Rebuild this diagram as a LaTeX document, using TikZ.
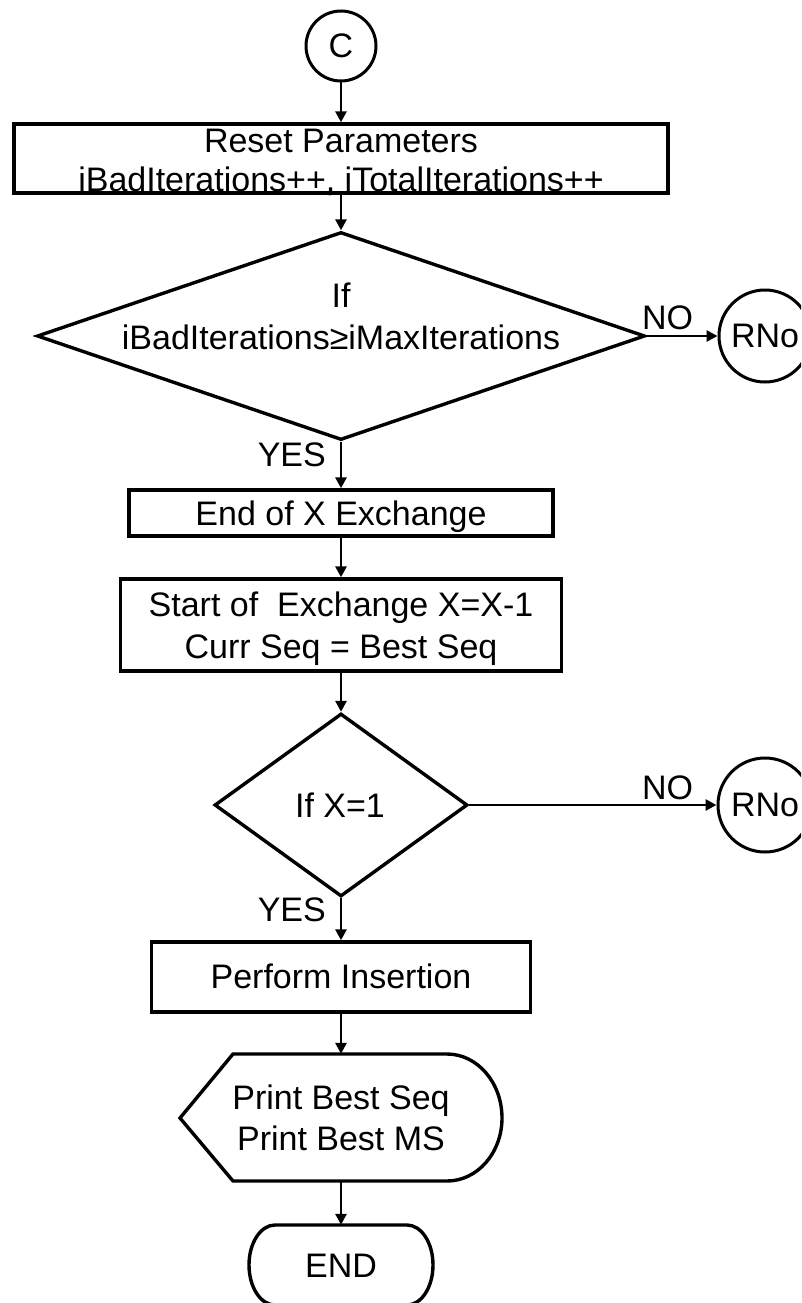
\documentclass[tikz,border=0pt]{standalone}
\usepackage{fontspec}
\setmainfont{Liberation Sans}
\usetikzlibrary{shapes.geometric,arrows.meta}

\tikzset{
  txt/.style={inner sep=0pt, anchor=base, font=\fontsize{34}{40}\selectfont},
  boxshape/.style={draw, line width=3.4pt, rectangle, inner sep=0pt},
  decision/.style={draw, line width=3.4pt, diamond, inner sep=0pt},
  connector/.style={draw, circle, line width=3pt, inner sep=0pt,
    font=\fontsize{34}{40}\selectfont},
  ghost/.style={rectangle, inner sep=0pt},
  outline/.style={line width=3.4pt, line join=miter},
  arr/.style={line width=2.8pt, -{Triangle[length=11pt, width=11pt]}},
}

\begin{document}
\begin{tikzpicture}[x=1pt, y=-1pt]
  \useasboundingbox (0,0) rectangle (801,1303);
  \clip (0,0) rectangle (801,1303);
  \fill[white] (0,0) rectangle (801,1303);

  % entry connector
  \node[connector, minimum size=70pt] (c) at (341,46) {C};

  % reset block
  \node[boxshape, minimum width=654pt, minimum height=69pt] (reset) at (341,158.5) {};
  \node[txt] (reset1) at (341,152) {Reset Parameters};
  \node[txt] (reset2) at (341,191) {iBadIterations++, iTotalIterations++};

  % first decision
  \node[decision, minimum width=608pt, minimum height=208pt] (d1) at (341,336) {};
  \node[txt] (d1a) at (341,307) {If};
  \node[txt] (d1b) at (341,349) {iBadIterations≥iMaxIterations};
  \node[connector, minimum size=92pt] (r1) at (765,336) {RNo};

  % exchange blocks
  \node[boxshape, minimum width=424pt, minimum height=46pt] (endx) at (341,513) {};
  \node[txt] (endxt) at (341,525) {End of X Exchange};
  \node[boxshape, minimum width=441pt, minimum height=92pt] (start) at (341,625) {};
  \node[txt] (start1) at (341,616) {Start of~ Exchange X=X-1};
  \node[txt] (start2) at (341,658) {Curr Seq = Best Seq};

  % second decision
  \node[decision, minimum width=253pt, minimum height=183pt] (d2) at (341,805) {};
  \node[txt] (d2t) at (340,817) {If X=1};
  \node[connector, minimum size=94pt] (r2) at (765,805) {RNo};

  % insertion block
  \node[boxshape, minimum width=379pt, minimum height=70pt] (perf) at (341,977) {};
  \node[txt] (perft) at (341,988) {Perform Insertion};

  % display symbol
  \node[ghost, minimum width=322pt, minimum height=127pt] (disp) at (341,1117.5) {};
  \draw[outline] (180,1118) -- (233,1054) -- (447,1054)
    .. controls (477.4,1054) and (502,1082.7) .. (502,1118)
    .. controls (502,1152.8) and (477.4,1181) .. (447,1181)
    -- (233,1181) -- cycle;
  \node[txt] (disp1) at (341,1109) {Print Best Seq};
  \node[txt] (disp2) at (341,1150) {Print Best MS};

  % terminal
  \node[ghost, minimum width=183pt, minimum height=80pt] (term) at (341,1265) {};
  \draw[outline] (275,1225) -- (407,1225)
    .. controls (421.4,1225) and (433,1242.9) .. (433,1265)
    .. controls (433,1287.1) and (421.4,1305) .. (407,1305)
    -- (275,1305)
    .. controls (260.6,1305) and (249,1287.1) .. (249,1265)
    .. controls (249,1242.9) and (260.6,1225) .. (275,1225) -- cycle;
  \node[txt] (termt) at (341,1277) {END};

  % connectors
  \draw[arr] (c.south) -- (reset.north);
  \draw[arr] (reset.south) -- (d1.north);
  \draw[arr] (d1.east) -- (r1.west);
  \draw[arr] (d1.south) -- (endx.north);
  \draw[arr] (endx.south) -- (start.north);
  \draw[arr] (start.south) -- (d2.north);
  \draw[arr] (d2.east) -- (r2.west);
  \draw[arr] (d2.south) -- (perf.north);
  \draw[arr] (perf.south) -- (disp.north);
  \draw[arr] (disp.south) -- (term.north);

  % branch labels
  \node[txt] (no1) at (667.5,329) {NO};
  \node[txt, anchor=base east] (yes1) at (326,466) {YES};
  \node[txt] (no2) at (667.5,799) {NO};
  \node[txt, anchor=base east] (yes2) at (326,921) {YES};
\end{tikzpicture}
\end{document}
